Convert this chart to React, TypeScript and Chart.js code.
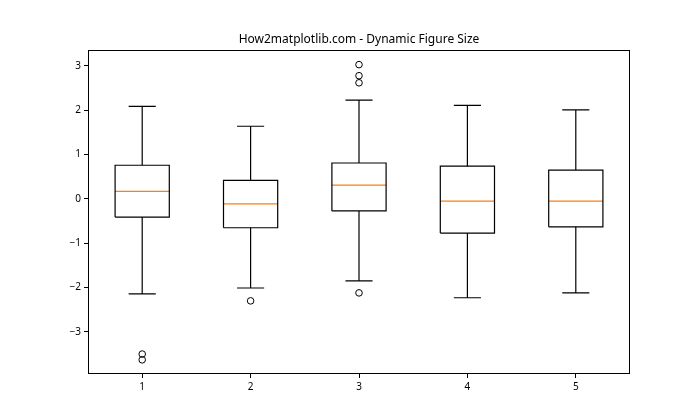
import { useEffect, useRef } from 'react';
import { Chart, registerables } from 'chart.js';

Chart.register(...registerables);

const categories = ['1', '2', '3', '4', '5'];
const positions = [1, 2, 3, 4, 5];
const whiskerLow = [-2.14, -2.01, -1.85, -2.23, -2.12];
const q1 = [-0.41, -0.65, -0.27, -0.77, -0.63];
const median = [0.17, -0.11, 0.31, -0.05, -0.05];
const q3 = [0.76, 0.42, 0.81, 0.74, 0.65];
const whiskerHigh = [2.09, 1.64, 2.23, 2.11, 2.01];
const outliers: number[][] = [[-3.5, -3.63], [-2.3], [3.03, 2.78, 2.62, -2.12], [], []];
const yTicks = [-3, -2, -1, 0, 1, 2, 3];

const BOX_HALF = 0.25;
const CAP_HALF = 0.125;
const FONT = "'Noto Sans', 'DejaVu Sans', sans-serif";

type P = { x: number; y: number | null };

function buildBoxes(): P[] {
  const pts: P[] = [];
  positions.forEach((x, i) => {
    pts.push({ x: x - BOX_HALF, y: q1[i] });
    pts.push({ x: x + BOX_HALF, y: q1[i] });
    pts.push({ x: x + BOX_HALF, y: q3[i] });
    pts.push({ x: x - BOX_HALF, y: q3[i] });
    pts.push({ x: x - BOX_HALF, y: q1[i] });
    pts.push({ x, y: null });
  });
  return pts;
}

function buildWhiskers(): P[] {
  const pts: P[] = [];
  positions.forEach((x, i) => {
    pts.push({ x, y: q3[i] }, { x, y: whiskerHigh[i] }, { x, y: null });
    pts.push({ x, y: q1[i] }, { x, y: whiskerLow[i] }, { x, y: null });
    pts.push({ x: x - CAP_HALF, y: whiskerHigh[i] }, { x: x + CAP_HALF, y: whiskerHigh[i] }, { x, y: null });
    pts.push({ x: x - CAP_HALF, y: whiskerLow[i] }, { x: x + CAP_HALF, y: whiskerLow[i] }, { x, y: null });
  });
  return pts;
}

function buildMedians(): P[] {
  const pts: P[] = [];
  positions.forEach((x, i) => {
    pts.push({ x: x - BOX_HALF, y: median[i] }, { x: x + BOX_HALF, y: median[i] }, { x, y: null });
  });
  return pts;
}

function buildOutliers(): P[] {
  const pts: P[] = [];
  positions.forEach((x, i) => outliers[i].forEach((v) => pts.push({ x, y: v })));
  return pts;
}

const framePlugin = {
  id: 'frame',
  afterDraw(chart: any) {
    const { ctx, chartArea } = chart;
    ctx.save();
    ctx.strokeStyle = '#000';
    ctx.lineWidth = 1;
    ctx.strokeRect(
      Math.round(chartArea.left) + 0.5,
      Math.round(chartArea.top) + 0.5,
      Math.round(chartArea.right - chartArea.left) - 1,
      Math.round(chartArea.bottom - chartArea.top) - 1
    );
    ctx.restore();
  },
};

export default function App() {
  const ref = useRef<HTMLCanvasElement>(null);
  useEffect(() => {
    document.body.style.margin = '0';
    const lineBase = {
      showLine: true,
      pointRadius: 0,
      borderWidth: 1.2,
      tension: 0,
      spanGaps: false,
      fill: false,
      borderDash: [10000, 0],
    };
    const chart = new Chart(ref.current!, {
      type: 'scatter',
      data: {
        datasets: [
          { ...lineBase, label: 'whiskers', data: buildWhiskers(), borderColor: '#000' },
          { ...lineBase, label: 'boxes', data: buildBoxes(), borderColor: '#000' },
          { ...lineBase, label: 'medians', data: buildMedians(), borderColor: '#ff7f0e' },
          {
            label: 'fliers',
            data: buildOutliers(),
            showLine: false,
            pointRadius: 3.3,
            pointStyle: 'circle',
            borderColor: '#000',
            backgroundColor: 'rgba(0,0,0,0)',
            borderWidth: 1,
          },
        ] as any,
      },
      plugins: [framePlugin],
      options: {
        animation: false,
        responsive: false,
        events: [],
        layout: { padding: { left: 18, right: 0, top: 0, bottom: 0 } },
        plugins: {
          legend: { display: false },
          tooltip: { enabled: false },
          title: {
            display: true,
            text: 'How2matplotlib.com - Dynamic Figure Size',
            color: '#000',
            font: { family: FONT, size: 12, weight: 'normal' },
            padding: { top: 32.8, bottom: 2.8 },
          },
        },
        scales: {
          x: {
            type: 'linear',
            min: 0.5,
            max: 5.5,
            afterBuildTicks: (s: any) => {
              s.ticks = positions.map((v) => ({ value: v }));
            },
            afterFit: (s: any) => {
              s.height = 46;
            },
            ticks: {
              color: '#000',
              padding: 3,
              font: { family: FONT, size: 10 },
              callback: (v: any) => categories[positions.indexOf(Number(v))] ?? '',
              maxRotation: 0,
            },
            grid: { drawOnChartArea: false, drawTicks: true, tickLength: 4, color: '#000' },
            border: { display: false },
          },
          y: {
            type: 'linear',
            min: -3.95,
            max: 3.36,
            afterBuildTicks: (s: any) => {
              s.ticks = yTicks.map((v) => ({ value: v }));
            },
            afterFit: (s: any) => {
              s.width = 70;
            },
            ticks: {
              color: '#000',
              padding: 3,
              font: { family: FONT, size: 10 },
              callback: (v: any) => String(v).replace('-', '\u2212'),
            },
            grid: { drawOnChartArea: false, drawTicks: true, tickLength: 4, color: '#000' },
            border: { display: false },
          },
          spacer: {
            type: 'linear',
            position: 'right',
            afterFit: (s: any) => {
              s.width = 70;
            },
            ticks: { display: false },
            grid: { display: false },
            border: { display: false },
          },
        },
      } as any,
    });
    return () => chart.destroy();
  }, []);
  return (
    <div style={{ width: 700, height: 420 }}>
      <canvas ref={ref} width={700} height={420} style={{ display: 'block' }} />
    </div>
  );
}
